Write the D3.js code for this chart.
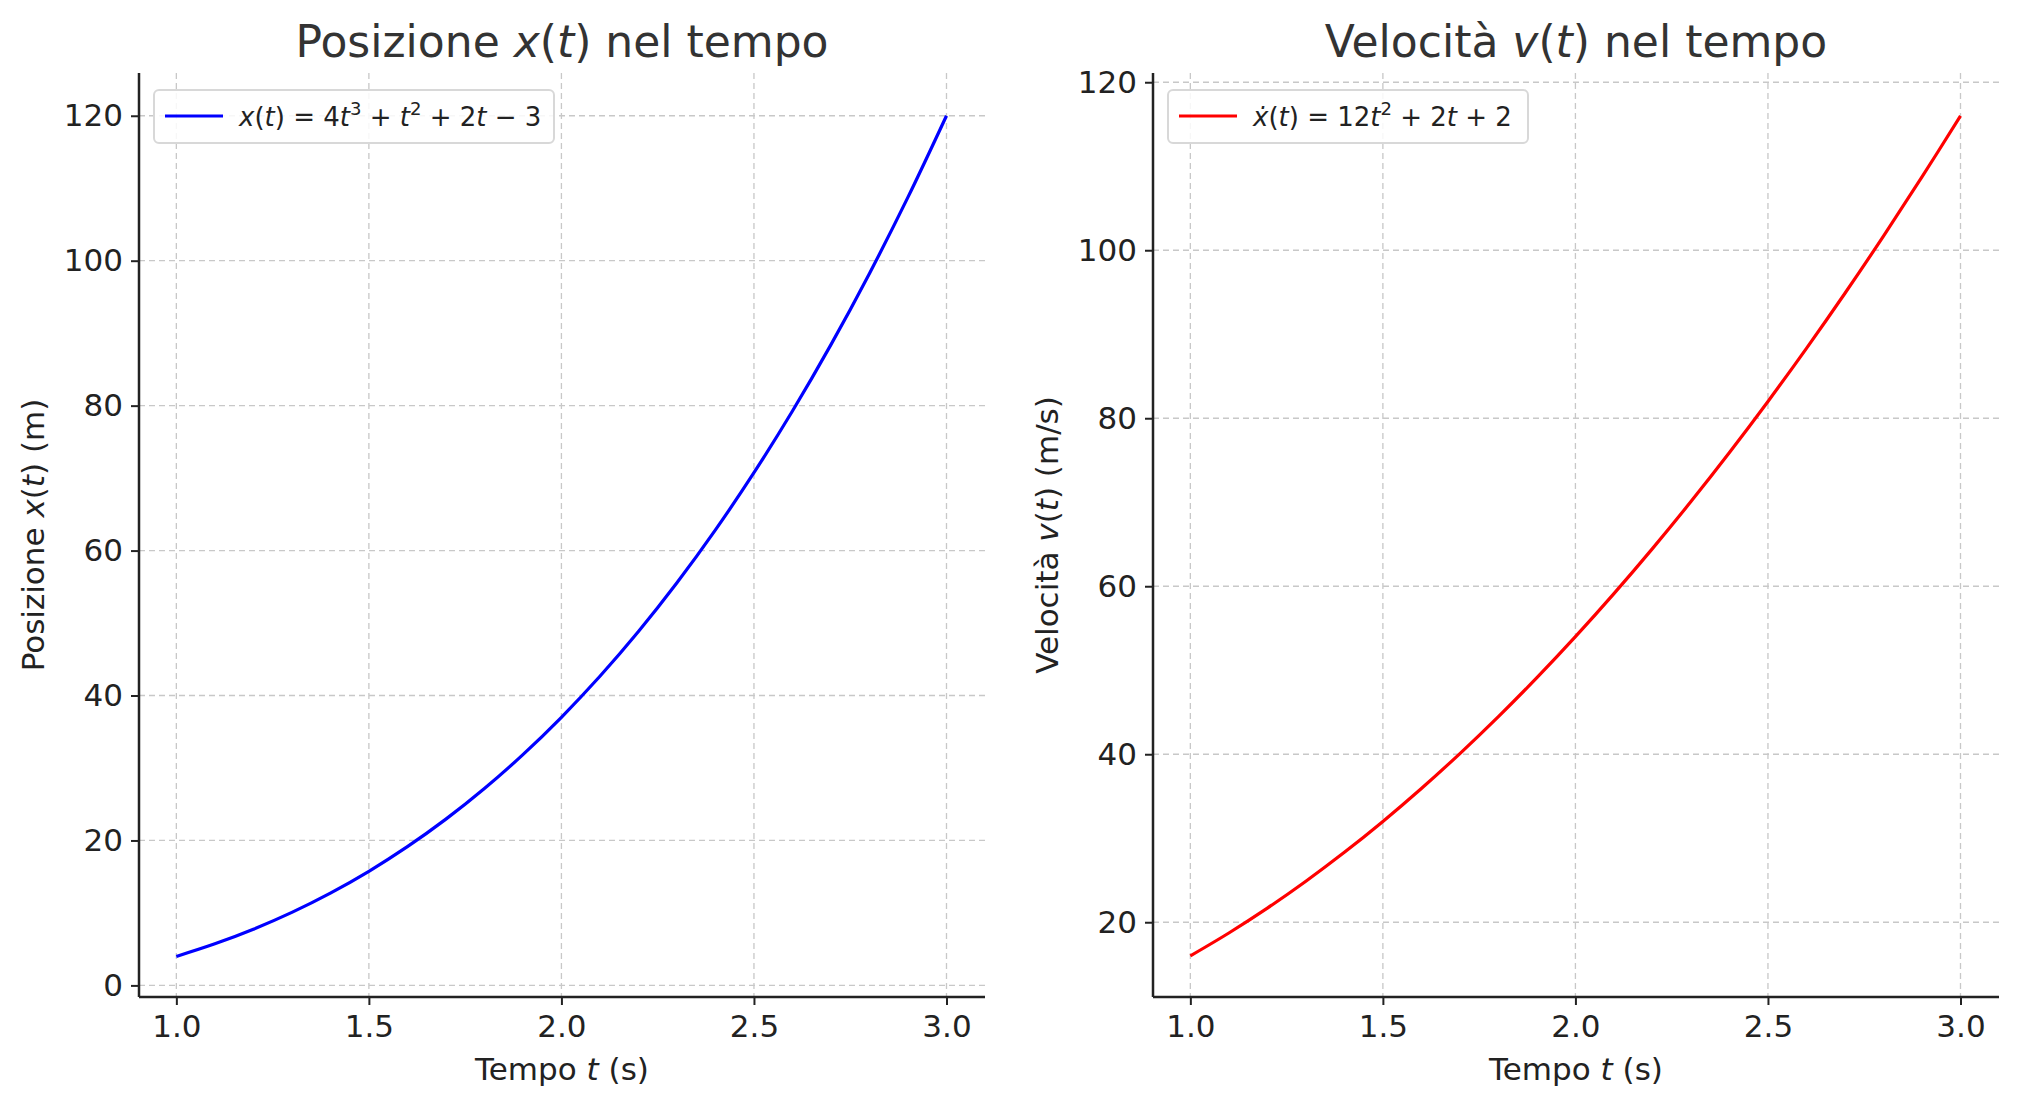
<!DOCTYPE html><html><head><meta charset="utf-8"><script src="https://cdn.jsdelivr.net/npm/d3@7"></script>
<style>body{margin:0;background:#fff}text{font-family:"DejaVu Sans";fill:#222}</style></head><body>
<svg id="c" width="2018" height="1109"></svg>
<script>
const tVals=[1.0,1.1,1.2,1.3,1.4,1.5,1.6,1.7,1.8,1.9,2.0,2.1,2.2,2.3,2.4,2.5,2.6,2.7,2.8,2.9,3.0];
const posVals=[4,5.734,7.752,10.078,12.736,15.75,19.144,22.942,27.168,31.846,37,42.654,48.832,55.558,62.856,70.75,79.264,88.422,98.248,108.766,120];
const velVals=[16,18.72,21.68,24.88,28.32,32,35.92,40.08,44.48,49.12,54,59.12,64.48,70.08,75.92,82,88.32,94.88,101.68,108.72,116];
const xTicks=[1.0,1.5,2.0,2.5,3.0];
const posTicks=[0,20,40,60,80,100,120];
const velTicks=[20,40,60,80,100,120];
const svg=d3.select("#c");
function panel(o){
  const g=svg.append("g");
  const x=d3.scaleLinear().domain([0.903,3.1]).range([o.l,o.r]);
  const y=d3.scaleLinear().domain(o.yd).range([o.b,o.t]);
  // grid
  g.selectAll(".gx").data(xTicks).join("line").attr("x1",d=>x(d)).attr("x2",d=>x(d)).attr("y1",o.t).attr("y2",o.b).attr("stroke","#c8c8c8").attr("stroke-dasharray","6,4").attr("stroke-width",1.3);
  g.selectAll(".gy").data(o.ticks).join("line").attr("x1",o.l).attr("x2",o.r).attr("y1",d=>y(d)).attr("y2",d=>y(d)).attr("stroke","#c8c8c8").attr("stroke-dasharray","6,4").attr("stroke-width",1.3);
  const ax=g.append("g").attr("transform",`translate(0,${o.b})`).call(d3.axisBottom(x).tickValues(xTicks).tickFormat(d3.format(".1f")).tickSize(8).tickPadding(10));
  const ay=g.append("g").attr("transform",`translate(${o.l},0)`).call(d3.axisLeft(y).tickValues(o.ticks).tickSize(8).tickPadding(8));
  [ax,ay].forEach(a=>{a.select(".domain").attr("stroke","#222").attr("stroke-width",2.5);a.selectAll(".tick line").attr("stroke","#222").attr("stroke-width",2);a.selectAll("text").attr("font-size",31).attr("fill","#222").attr("font-family","DejaVu Sans");});
  ay.select(".domain").attr("d",`M0,${o.t}V${o.b}`);
  ax.select(".domain").attr("d",`M${o.l},0H${o.r}`);
  g.append("path").datum(tVals.map((t,i)=>[t,o.vals[i]])).attr("fill","none").attr("stroke",o.col).attr("stroke-width",3.2)
   .attr("d",d3.line().x(d=>x(d[0])).y(d=>y(d[1])).curve(d3.curveCatmullRom));
  // title
  const tt=g.append("text").attr("x",(o.l+o.r)/2).attr("y",57).attr("text-anchor","middle").attr("font-size",44).style("fill","#333");
  tt.append("tspan").text(o.title[0]);tt.append("tspan").attr("font-style","italic").text(o.title[1]);tt.append("tspan").text("(");tt.append("tspan").attr("font-style","italic").text("t");tt.append("tspan").text(") nel tempo");
  const xl=g.append("text").attr("x",(o.l+o.r)/2).attr("y",1080).attr("text-anchor","middle").attr("font-size",31);
  xl.append("tspan").text("Tempo ");xl.append("tspan").attr("font-style","italic").text("t");xl.append("tspan").text(" (s)");
  const yl=g.append("text").attr("transform",`translate(${o.l-95},${(o.t+o.b)/2}) rotate(-90)`).attr("text-anchor","middle").attr("font-size",31);
  yl.append("tspan").text(o.yl[0]);yl.append("tspan").attr("font-style","italic").text(o.yl[1]);yl.append("tspan").text("(");yl.append("tspan").attr("font-style","italic").text("t");yl.append("tspan").text(o.yl[2]);
  // legend
  g.append("rect").attr("x",o.l+15).attr("y",90).attr("width",o.lw).attr("height",53).attr("rx",5).attr("fill","#fff").attr("fill-opacity",0.85).attr("stroke","#d8d8d8").attr("stroke-width",2);
  g.append("line").attr("x1",o.l+26).attr("x2",o.l+84).attr("y1",116).attr("y2",116).attr("stroke",o.col).attr("stroke-width",3.2);
  const lt=g.append("text").attr("x",o.l+100).attr("y",126).attr("font-size",26);
  o.leg.forEach(p=>{const s=lt.append("tspan").text(p[0]);if(p[1]==="i")s.attr("font-style","italic");if(p[1]==="s")s.attr("font-size",18).attr("dy",-11);if(p[1]==="e")s.attr("dy",11);});
}
panel({l:139,r:985,t:73,b:997,yd:[-1.6,125.9],ticks:posTicks,vals:posVals,col:"#0000ff",title:["Posizione ","x"],yl:["Posizione ","x",") (m)"],lw:400,
 leg:[["x","i"],["(",""],["t","i"],[") = 4",""],["t","i"],["3","s"],[" + ","e"],["t","i"],["2","s"],[" + 2","e"],["t","i"],[" − 3",""]]});
panel({l:1153,r:1999,t:73,b:997,yd:[11.1,121.1],ticks:velTicks,vals:velVals,col:"#ff0000",title:["Velocità ","v"],yl:["Velocità ","v",") (m/s)"],lw:360,
 leg:[["ẋ","i"],["(",""],["t","i"],[") = 12",""],["t","i"],["2","s"],[" + 2","e"],["t","i"],[" + 2",""]]});
</script></body></html>
